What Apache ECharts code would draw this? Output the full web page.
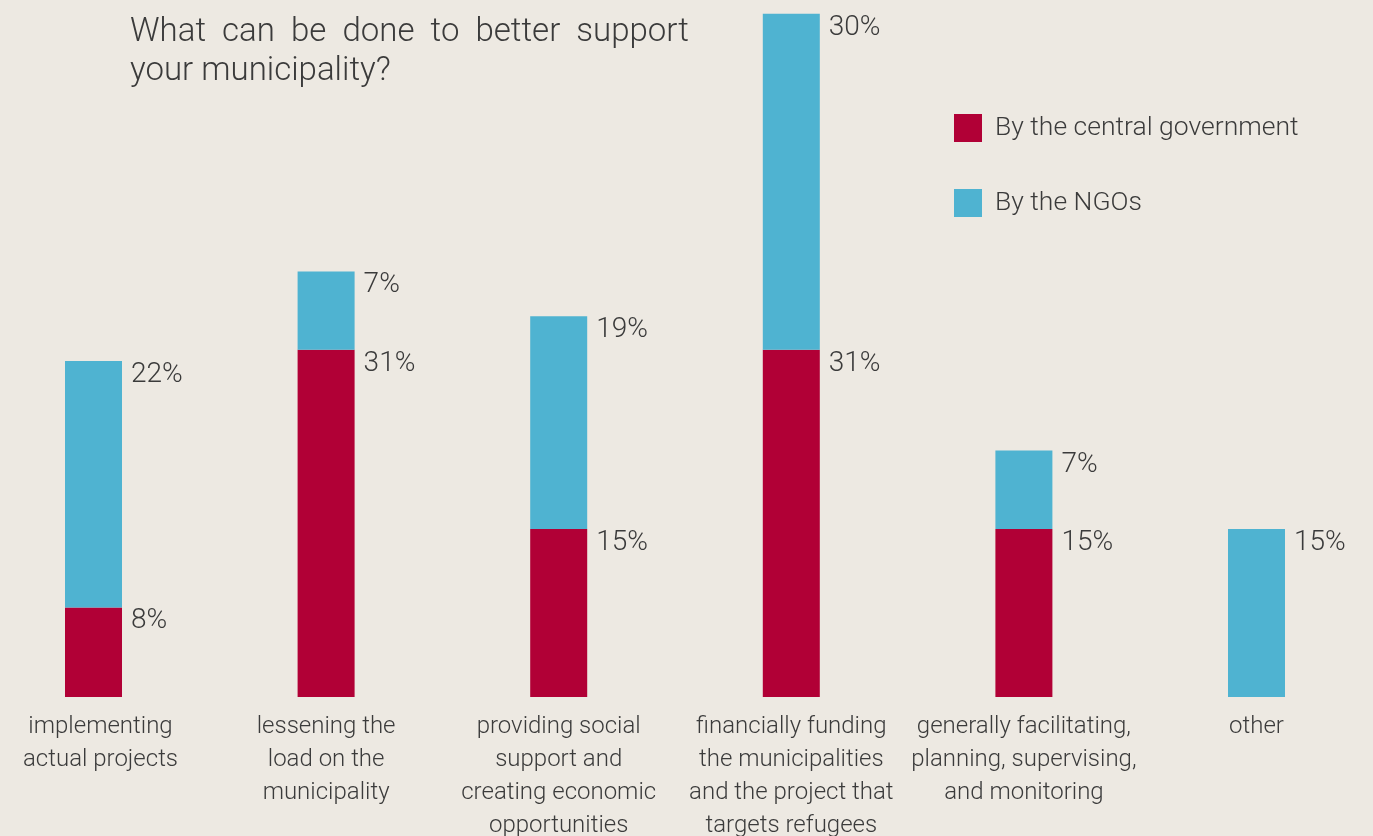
<!DOCTYPE html>
<html><head><meta charset="utf-8">
<script src="https://cdn.jsdelivr.net/npm/echarts@6/dist/echarts.min.js"></script>
<style>html,body{margin:0;padding:0;background:#ede9e2;}#c{width:1373px;height:836px;}</style>
</head><body><div id="c"></div>
<script>
const categories = [
  "implementing\nactual projects",
  "lessening the\nload on the\nmunicipality",
  "providing social\nsupport and\ncreating economic\nopportunities",
  "financially funding\nthe municipalities\nand the project that\ntargets refugees",
  "generally facilitating,\nplanning, supervising,\nand monitoring",
  "other"
];
const centralGov = [8, 31, 15, 31, 15, null];
const ngos = [22, 7, 19, 30, 7, 15];
const seriesNames = ["By the central government", "By the NGOs"];
const titleText = "What  can  be  done  to  better  support\nyour municipality?";

const FONT = "Roboto";
const TXT = "#3b3b3b";
const label = {
  show: true,
  position: ['100%', 0],
  offset: [9, 14],
  align: 'left',
  verticalAlign: 'middle',
  fontFamily: FONT,
  fontWeight: 300,
  fontSize: 28,
  color: TXT,
  formatter: p => p.value == null ? '' : p.value + '%'
};
const axisData = categories.map((c, i) => i === 0 ? {value: c, textStyle: {padding: [0, 0, 0, 14]}} : c);
const chart = echarts.init(document.getElementById('c'));
chart.setOption({
  backgroundColor: '#ede9e2',
  animation: false,
  title: {
    text: titleText,
    left: 125, top: 8,
    textStyle: {fontFamily: FONT, fontWeight: 300, fontSize: 33, lineHeight: 39, color: TXT}
  },
  legend: {
    orient: 'vertical',
    left: 949, top: 109,
    itemWidth: 28, itemHeight: 28, itemGap: 47,
    icon: 'rect',
    textStyle: {fontFamily: FONT, fontWeight: 300, fontSize: 26.5, color: TXT, padding: [3, 0, 0, 8]},
    data: seriesNames
  },
  grid: {left: 93.5, right: 116.5, top: 2.6, bottom: 139, containLabel: false, outerBoundsMode: 'none'},
  xAxis: {
    type: 'category',
    data: axisData,
    boundaryGap: false,
    axisLine: {show: false},
    axisTick: {show: false},
    axisLabel: {
      interval: 0, margin: 13,
      fontFamily: FONT, fontWeight: 300, fontSize: 24, lineHeight: 33, color: TXT,
      verticalAlign: 'top'
    }
  },
  yAxis: {type: 'value', min: 0, max: 62, show: false, splitLine: {show: false}},
  series: [
    {name: seriesNames[0], type: 'bar', stack: 's', barWidth: 57, data: centralGov,
     itemStyle: {color: '#b10036'}, label: label},
    {name: seriesNames[1], type: 'bar', stack: 's', barWidth: 57, data: ngos,
     itemStyle: {color: '#4fb3d1'}, label: label}
  ]
});
</script></body></html>
